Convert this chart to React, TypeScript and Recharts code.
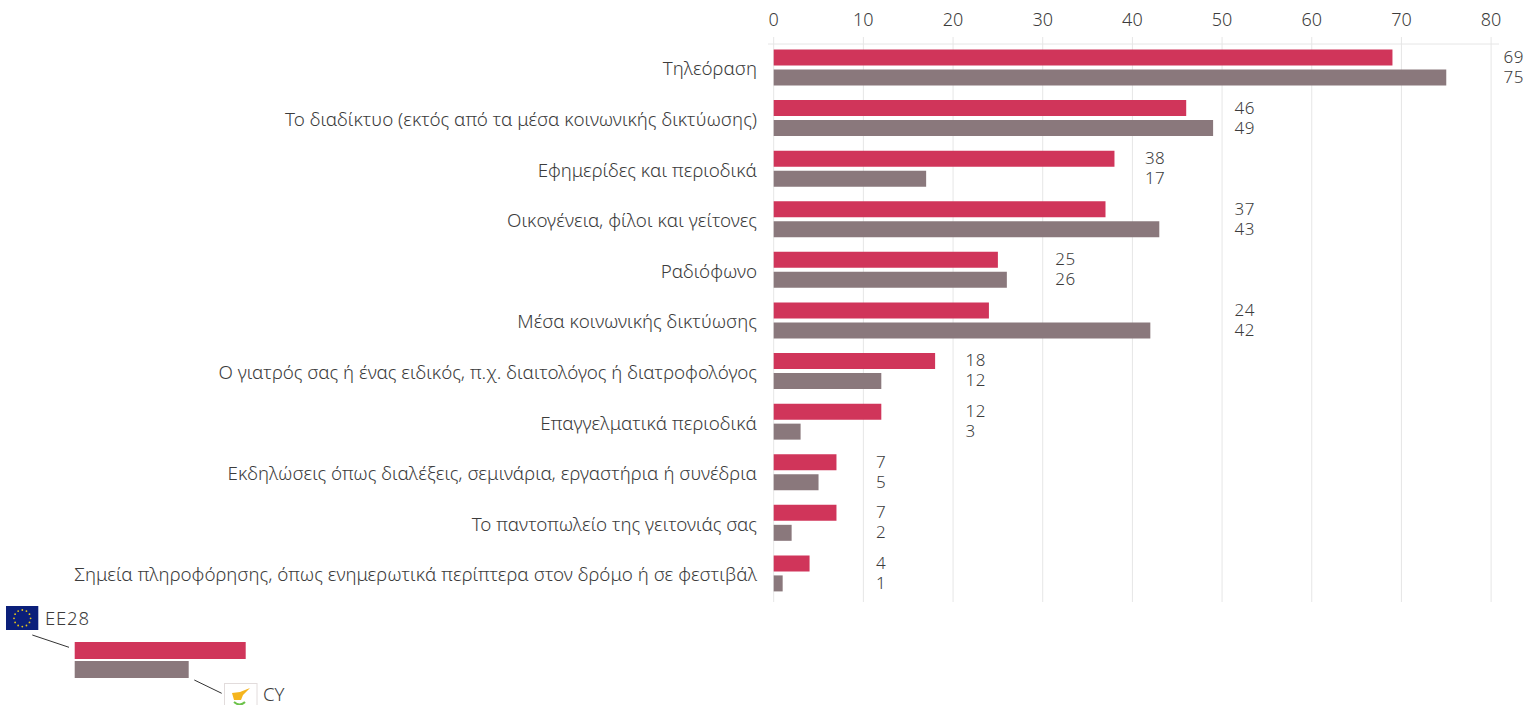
import { Bar, BarChart, CartesianGrid, LabelList, XAxis, YAxis } from "recharts"

const categories = [
  "Τηλεόραση",
  "Το διαδίκτυο (εκτός από τα μέσα κοινωνικής δικτύωσης)",
  "Εφημερίδες και περιοδικά",
  "Οικογένεια, φίλοι και γείτονες",
  "Ραδιόφωνο",
  "Μέσα κοινωνικής δικτύωσης",
  "Ο γιατρός σας ή ένας ειδικός, π.χ. διαιτολόγος ή διατροφολόγος",
  "Επαγγελματικά περιοδικά",
  "Εκδηλώσεις όπως διαλέξεις, σεμινάρια, εργαστήρια ή συνέδρια",
  "Το παντοπωλείο της γειτονιάς σας",
  "Σημεία πληροφόρησης, όπως ενημερωτικά περίπτερα στον δρόμο ή σε φεστιβάλ",
]
const eu = [69, 46, 38, 37, 25, 24, 18, 12, 7, 7, 4]
const cy = [75, 49, 17, 43, 26, 42, 12, 3, 5, 2, 1]
const xTicks = [0, 10, 20, 30, 40, 50, 60, 70, 80]

const data = categories.map((name, i) => ({ name, EE28: eu[i], CY: cy[i] }))

const FONT = "'Noto Sans', sans-serif"
const TEXT = "#3c3c3c"
const RED = "#d0355a"
const GREY = "#8a787c"

// the numbers sit in a column at the next round ten after the longer bar
const ValueLabel = (props: any) => {
  const { x, y, width, height, value, index } = props
  const top = Math.max(eu[index], cy[index])
  const column = Math.ceil(top / 10) * 10
  const perUnit = width / value
  return (
    <text
      x={x + perUnit * column + 12.5}
      y={y + height / 2}
      dy="0.32em"
      fontSize={17}
      letterSpacing={0.5}
      fontFamily={FONT}
      fontWeight={300}
      fill={TEXT}
    >
      {value}
    </text>
  )
}

const euStars = [0, 30, 60, 90, 120, 150, 180, 210, 240, 270, 300, 330]

function LegendKey() {
  return (
    <svg width={330} height={115} style={{ position: "absolute", left: 0, top: 590 }}>
      <rect x={6} y={16} width={32.3} height={24} fill="#0b1f7a" />
      {euStars.map((a) => (
        <circle
          key={a}
          cx={22.3 + 8.3 * Math.cos((a * Math.PI) / 180)}
          cy={28.3 + 8.3 * Math.sin((a * Math.PI) / 180)}
          r={0.9}
          fill="#e6c619"
        />
      ))}
      <text x={45} y={35} fontSize={18.5} letterSpacing={0.8} fontFamily={FONT} fontWeight={300} fill={TEXT}>EE28</text>
      <line x1={32.3} y1={45} x2={69} y2={57.3} stroke="#333" strokeWidth={1} />
      <rect x={74.7} y={52} width={171} height={17} fill={RED} />
      <rect x={74.7} y={71} width={114} height={17} fill={GREY} />
      <line x1={194.3} y1={90} x2={221.7} y2={103.3} stroke="#333" strokeWidth={1} />
      <rect x={224.5} y={93.5} width={32.5} height={24} fill="#fff" stroke="#e2dcdc" />
      <path d="M232 103 L240 102 L250 98 L243 105 L241 110 L234 110 Z" fill="#f5b51e" />
      <path d="M234 112 Q240 117 245 112" fill="none" stroke="#6cc24a" strokeWidth={2} />
      <text x={263} y={111} fontSize={18.5} fontFamily={FONT} fontWeight={300} fill={TEXT}>CY</text>
    </svg>
  )
}

export default function App() {
  return (
    <div style={{ position: "absolute", left: 0, top: 0, width: 1526, height: 705, overflow: "hidden", background: "#fff" }}>
      <BarChart
        width={1526}
        height={705}
        data={data}
        layout="vertical"
        barSize={16}
        barGap={4}
        margin={{ top: 0, right: 27, bottom: 103, left: 0 }}
      >
        <CartesianGrid
          stroke="#e6e6e6"
          syncWithTicks
          horizontalCoordinatesGenerator={() => [44]}
        />
        <XAxis
          type="number"
          orientation="top"
          domain={[0, 80]}
          ticks={xTicks}
          height={37}
          padding={{ left: 5.7, right: 7.9 }}
          axisLine={false}
          tickLine={false}
          tickSize={0}
          tickMargin={11}
          tick={{ fontSize: 18, fontFamily: FONT, fontWeight: 300, fill: TEXT }}
        />
        <YAxis
          type="category"
          dataKey="name"
          width={768}
          interval={0}
          padding={{ top: 5.5, bottom: 3 }}
          axisLine={false}
          tickLine={false}
          tickSize={0}
          tickMargin={11}
          tick={{ fontSize: 18.8, fontFamily: FONT, fontWeight: 300, fill: TEXT, dy: 1 }}
        />
        <Bar dataKey="EE28" fill={RED} isAnimationActive={false}>
          <LabelList dataKey="EE28" content={ValueLabel} />
        </Bar>
        <Bar dataKey="CY" fill={GREY} isAnimationActive={false}>
          <LabelList dataKey="CY" content={ValueLabel} />
        </Bar>
      </BarChart>
      <LegendKey />
    </div>
  )
}
